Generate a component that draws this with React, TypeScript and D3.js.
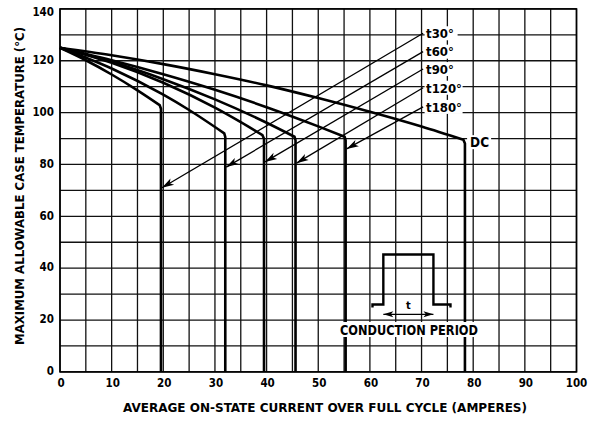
import React from "react";
import * as d3 from "d3";

// ---- data ----
const xTicks = [0, 10, 20, 30, 40, 50, 60, 70, 80, 90, 100];
const yTicks = [0, 20, 40, 60, 80, 100, 120, 140];
const xGrid = d3.range(0, 101, 5);
const yGrid = d3.range(0, 141, 10);

const curveNames = ["t30°", "t60°", "t90°", "t120°", "t180°", "DC"];
const series30 = [[0, 125], [5, 120.2], [10, 114.7], [15, 108.6], [19.3, 102.9]];
const series60 = [[0, 125], [10, 117.0], [20, 106.9], [25, 101.0], [31.8, 92.0]];
const series90 = [[0, 125], [10, 119.2], [20, 111.5], [30, 101.9], [35, 96.3], [39.2, 91.3]];
const series120 = [[0, 125], [10, 119.6], [20, 112.9], [30, 105.1], [40, 96.1], [45.4, 90.7]];
const series180 = [[0, 125], [10, 120.2], [20, 114.8], [30, 108.8], [40, 102.1], [50, 94.7], [55.1, 90.7]];
const seriesDC = [[0, 125], [10, 122.1], [20, 118.7], [30, 114.8], [40, 110.5], [50, 105.6], [60, 100.3], [70, 94.6], [78.1, 89.5]];
const allSeries = [series30, series60, series90, series120, series180, seriesDC];
// current at which each curve drops vertically to zero
const dropCurrent = [19.55, 32.0, 39.5, 45.6, 55.3, 78.4];

// arrows: from label (current, temp) to tip on the vertical drop (temp)
const labelCurrent = 70.3;
const labelTemp = [130.6, 123.5, 116.8, 109.6, 102.2];
const arrowTipTemp = [71, 79, 81, 80.5, 86];
const dcLabel = [79.4, 88.6];

// conduction period inset (current, temp units)
const pulseX = [60.5, 62.6, 72.3, 75.6];
const pulseY = [24.8, 26, 45.3];
const periodArrowY = 22.2;

const W = 595;
const H = 423;
const x = d3.scaleLinear().domain([0, 100]).range([60, 576.5]);
const y = d3.scaleLinear().domain([0, 140]).range([371.9, 8.9]);

const FONT = "'DejaVu Sans Condensed', 'Liberation Sans Narrow', 'DejaVu Sans', sans-serif";

function arrowHead(x1: number, y1: number, x2: number, y2: number, len = 12, hw = 3.6) {
  const dx = x2 - x1, dy = y2 - y1;
  const d = Math.hypot(dx, dy);
  const ux = dx / d, uy = dy / d;
  const nx = -uy, ny = ux;
  const bx = x2 - ux * len, by = y2 - uy * len;
  return `M${x2},${y2} L${bx + nx * hw},${by + ny * hw} L${x2 - ux * len * 0.75},${y2 - uy * len * 0.75} L${bx - nx * hw},${by - ny * hw} Z`;
}

export default function App() {
  const line = d3
    .line<number[]>()
    .x((d) => x(d[0]))
    .y((d) => y(d[1]))
    .curve(d3.curveMonotoneX);

  const curvePaths = allSeries.map((s, i) => {
    const knee = s[s.length - 1];
    return (
      line(s) +
      ` L${x(dropCurrent[i])},${y(knee[1] - 1.4)} L${x(dropCurrent[i])},${y(0)}`
    );
  });

  const labelW = [33, 33, 33, 38, 38];

  return (
    <svg
      width={W}
      height={H}
      style={{ position: "absolute", left: 0, top: 0, background: "#fff" }}
      fontFamily={FONT}
      fontWeight="bold"
    >
      <rect x={0} y={0} width={W} height={H} fill="#fff" />
      {/* grid */}
      <g stroke="#111" strokeWidth={1.3}>
        {xGrid.map((v) => (
          <line key={"gx" + v} x1={x(v)} x2={x(v)} y1={y(0)} y2={y(140)} />
        ))}
        {yGrid.map((v) => (
          <line key={"gy" + v} x1={x(0)} x2={x(100)} y1={y(v)} y2={y(v)} />
        ))}
      </g>
      <rect x={x(0)} y={y(140)} width={x(100) - x(0)} height={y(0) - y(140)} fill="none" stroke="#000" strokeWidth={1.6} />

      {/* curves */}
      <g fill="none" stroke="#000" strokeWidth={2.6} strokeLinejoin="round">
        {curvePaths.map((p, i) => (
          <path key={"c" + i} d={p} />
        ))}
      </g>

      {/* arrows */}
      <g>
        {labelTemp.map((t, i) => {
          const x1 = x(labelCurrent), y1 = y(t);
          const x2 = x(dropCurrent[i]) + 1, y2 = y(arrowTipTemp[i]);
          return (
            <g key={"a" + i}>
              <line x1={x1} y1={y1} x2={x2} y2={y2} stroke="#000" strokeWidth={1.3} />
              <path d={arrowHead(x1, y1, x2, y2)} fill="#000" />
            </g>
          );
        })}
      </g>

      {/* labels */}
      {labelTemp.map((t, i) => (
        <g key={"l" + i}>
          <rect x={x(labelCurrent) + 1.5} y={y(t) - 7} width={labelW[i]} height={14} fill="#fff" />
          <text x={x(labelCurrent) + 3} y={y(t) + 4.8} fontSize={13} fill="#000">
            {curveNames[i]}
          </text>
        </g>
      ))}
      <rect x={x(dcLabel[0]) - 3} y={y(dcLabel[1]) - 7} width={24} height={14} fill="#fff" />
      <text x={x(dcLabel[0])} y={y(dcLabel[1]) + 5} fontSize={13.5} fill="#000">
        {curveNames[5]}
      </text>

      {/* conduction period inset */}
      <path
        d={`M${x(pulseX[0])},${y(pulseY[0])} L${x(pulseX[0])},${y(pulseY[1])} L${x(pulseX[1])},${y(pulseY[1])} L${x(pulseX[1])},${y(pulseY[2])} L${x(pulseX[2])},${y(pulseY[2])} L${x(pulseX[2])},${y(pulseY[1])} L${x(pulseX[3])},${y(pulseY[1])} L${x(pulseX[3])},${y(pulseY[0])}`}
        fill="none"
        stroke="#000"
        strokeWidth={2.4}
      />
      <line x1={x(pulseX[1])} x2={x(pulseX[2])} y1={y(periodArrowY)} y2={y(periodArrowY)} stroke="#000" strokeWidth={1.3} />
      <path d={arrowHead(x(pulseX[2]), y(periodArrowY), x(pulseX[1]), y(periodArrowY), 10, 3)} fill="#000" />
      <path d={arrowHead(x(pulseX[1]), y(periodArrowY), x(pulseX[2]), y(periodArrowY), 10, 3)} fill="#000" />
      <text x={(x(pulseX[1]) + x(pulseX[2])) / 2} y={y(periodArrowY) - 5} fontSize={11} textAnchor="middle">
        t
      </text>
      <rect x={339} y={322} width={141} height={15} fill="#fff" />
      <text x={409} y={335} fontSize={13.5} textAnchor="middle" textLength={138} lengthAdjust="spacingAndGlyphs">
        CONDUCTION PERIOD
      </text>

      {/* axes tick labels */}
      {xTicks.map((v) => (
        <text key={"xt" + v} x={x(v) + (v === 100 ? 0 : 1)} y={387.3} fontSize={11.5} textAnchor="middle">
          {v}
        </text>
      ))}
      {yTicks.map((v) => (
        <text key={"yt" + v} x={54} y={Math.max(y(v), 12.5) + 3.2} fontSize={11.5} textAnchor="end">
          {v}
        </text>
      ))}

      {/* axis titles */}
      <text x={325} y={411.5} fontSize={12} textAnchor="middle" textLength={404} lengthAdjust="spacingAndGlyphs">
        AVERAGE ON-STATE CURRENT OVER FULL CYCLE (AMPERES)
      </text>
      <text
        transform="translate(23.5,186) rotate(-90)"
        fontSize={11.5}
        textAnchor="middle"
        textLength={318}
        lengthAdjust="spacingAndGlyphs"
      >
        MAXIMUM ALLOWABLE CASE TEMPERATURE (°C)
      </text>
    </svg>
  );
}
